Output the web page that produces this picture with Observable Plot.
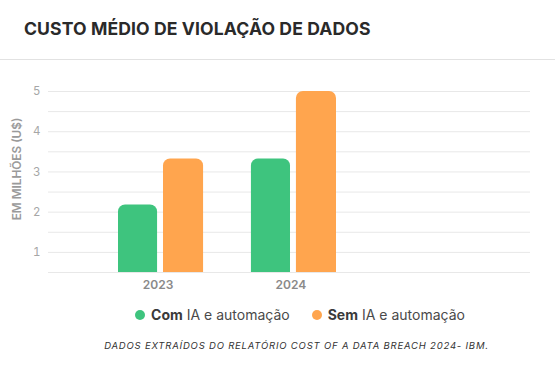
<!DOCTYPE html>
<html>
<head>
<meta charset="utf-8">
<script src="https://cdn.jsdelivr.net/npm/d3@7"></script>
<script src="https://cdn.jsdelivr.net/npm/@observablehq/plot@0.6"></script>
<style>
  html, body { margin: 0; padding: 0; background: #fff; }
  body { width: 555px; height: 370px; font-family: Inter, "Noto Sans", sans-serif; overflow: hidden; }
  .title { position: absolute; left: 24px; top: 19px; font-size: 17.6px; line-height: 20px; font-weight: 700; color: #2a2a2a; letter-spacing: 0.1px; }
  .sep { position: absolute; left: 0; top: 59px; width: 555px; height: 1px; background: #e2e2e2; }
  #chart { position: absolute; left: 0; top: 60px; }
  .legend { position: absolute; left: 0; top: 305px; width: 555px; display: flex; justify-content: center; padding-left: 45px; box-sizing: border-box; font-size: 14px; line-height: 20px; color: #4a4a4a; gap: 22px; }
  .legend .item { display: flex; align-items: center; }
  .legend .dot { width: 10px; height: 10px; border-radius: 50%; margin-right: 6px; }
  .legend b { font-weight: 700; color: #3a3a3a; margin-right: 4px; }
  .footer { position: absolute; left: 0; top: 340px; width: 555px; text-align: center; padding-left: 38px; box-sizing: border-box; font-size: 9.5px; line-height: 12px; font-style: italic; letter-spacing: 0.8px; color: #333; }
</style>
</head>
<body>
<div class="title" id="title"></div>
<div class="sep"></div>
<div id="chart"></div>
<div class="legend" id="legend"></div>
<div class="footer" id="footer"></div>
<script>
const titleText = "CUSTO MÉDIO DE VIOLAÇÃO DE DADOS";
const yLabel = "EM MILHÕES (U$)";
const footerText = "DADOS EXTRAÍDOS DO RELATÓRIO COST OF A DATA BREACH 2024- IBM.";
const years = ["2023", "2024"];
const comIA = [2.18, 3.32];
const semIA = [3.32, 5.0];
const seriesKeys = ["Com", "Sem"];
const seriesRest = ["IA e automação", "IA e automação"];
const seriesColors = ["#3ec47e", "#ffa54e"];
const yTicks = [1, 2, 3, 4, 5];
const gridLines = [0.5, 1, 1.5, 2, 2.5, 3, 3.5, 4, 4.5, 5];

document.getElementById("title").textContent = titleText;
document.getElementById("footer").textContent = footerText;

const comRows = years.map((y, i) => ({year: y, s: seriesKeys[0], v: comIA[i]}));
const semRows = years.map((y, i) => ({year: y, s: seriesKeys[1], v: semIA[i]}));

const chart = Plot.plot({
  width: 555,
  height: 240,
  marginTop: 31,
  marginBottom: 28,
  marginLeft: 48,
  marginRight: 25,
  style: {fontFamily: "Inter, 'Noto Sans', sans-serif", background: "transparent"},
  x: {domain: years, range: [118, 336], paddingInner: 0.36, paddingOuter: 0, round: false, axis: null},
  y: {domain: [0.5, 5], axis: null},
  color: {domain: seriesKeys, range: seriesColors},
  marks: [
    Plot.ruleY(gridLines, {stroke: "#e8e8e8", strokeWidth: 1}),
    Plot.barY(comRows, {x: "year", y: "v", fill: "s", insetRight: 46, rx: 7, clip: true}),
    Plot.barY(semRows, {x: "year", y: "v", fill: "s", insetLeft: 45, rx: 7, clip: true}),
    Plot.axisY(yTicks, {tickSize: 0, tickPadding: 8, fill: "#a6a6a6", fontSize: 11.5, label: null}),
    Plot.axisX(years, {tickSize: 0, tickPadding: 8, fill: "#8a8a8a", fontSize: 12, fontWeight: 600, dx: -3, label: null}),
    Plot.text([yLabel], {text: d => d, frameAnchor: "left", textAnchor: "middle", rotate: -90, dx: -31, dy: -13, fill: "#9a9a9a", fontSize: 11.8, fontWeight: 600})
  ]
});
document.getElementById("chart").appendChild(chart);

const legend = document.getElementById("legend");
seriesKeys.forEach((k, i) => {
  const item = document.createElement("div");
  item.className = "item";
  const dot = document.createElement("span");
  dot.className = "dot";
  dot.style.background = seriesColors[i];
  const b = document.createElement("b");
  b.textContent = k;
  const rest = document.createElement("span");
  rest.textContent = seriesRest[i];
  item.append(dot, b, rest);
  legend.appendChild(item);
});
</script>
</body>
</html>
